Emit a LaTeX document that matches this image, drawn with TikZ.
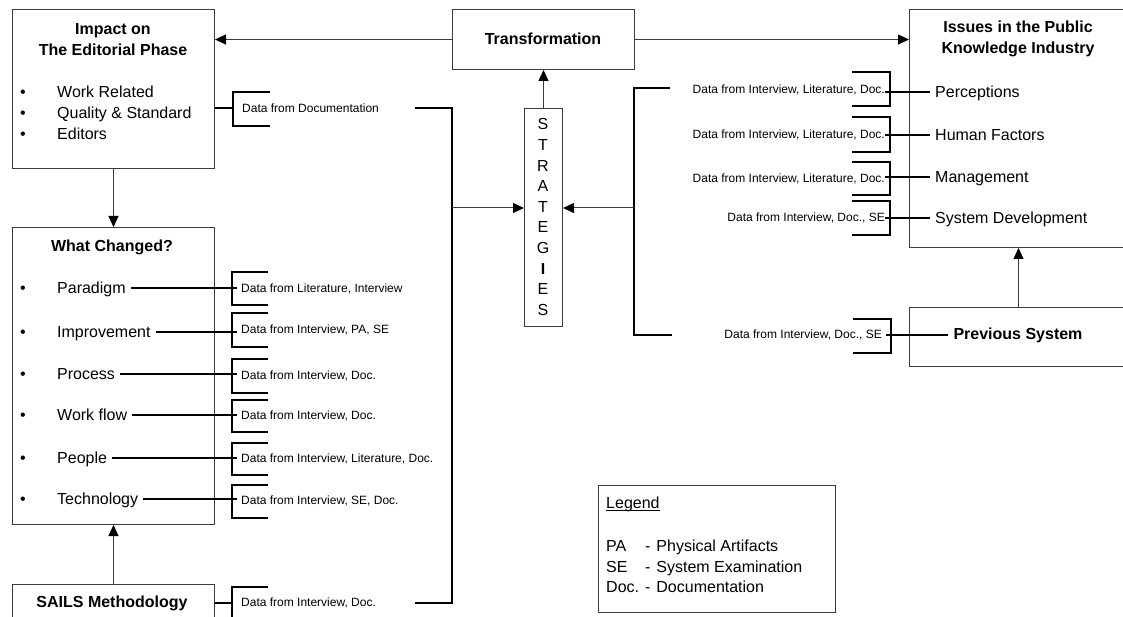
\documentclass[tikz,border=0pt]{standalone}
\usepackage{fontspec}
\setmainfont{Liberation Sans}
\usetikzlibrary{arrows.meta}
\definecolor{edge}{RGB}{60,60,60}
\begin{document}
\begin{tikzpicture}[x=1pt,y=-1pt,
  box/.style={draw=edge,line width=1pt,inner sep=0pt,anchor=north west},
  head/.style={font=\fontsize{16}{21}\selectfont\bfseries,align=center,inner sep=0pt},
  item/.style={font=\fontsize{16}{19}\selectfont,anchor=base west,yshift=-5.7pt,inner sep=0pt},
  data/.style={font=\fontsize{12}{14}\selectfont,inner sep=0pt},
  dot/.style={font=\fontsize{16}{19}\selectfont,anchor=base,yshift=-5.7pt,inner sep=0pt},
  link/.style={line width=1.2pt},
  feed/.style={draw=edge,line width=1pt,-{Triangle[length=11pt,width=10pt,color=black]}},
]
\useasboundingbox (0,0) rectangle (1123,617);
\clip (0,0) rectangle (1123,617);

% ---------- boxes ----------
\node[box,minimum width=202pt,minimum height=159pt] (impact) at (12,9) {};
\node[box,minimum width=182pt,minimum height=60pt] (trans) at (452,9) {};
\node[box,minimum width=38pt,minimum height=218pt] (strat) at (524,108) {};
\node[box,minimum width=218pt,minimum height=238pt] (issues) at (909,9) {};
\node[box,minimum width=218pt,minimum height=59pt] (prev) at (909,307) {};
\node[box,minimum width=202pt,minimum height=297pt] (what) at (12,227) {};
\node[box,minimum width=202pt,minimum height=50pt] (sails) at (12,584) {};
\node[box,minimum width=237pt,minimum height=127pt] (legend) at (598,485) {};

% ---------- titles ----------
\node[head] (impactT) at (113,40) {Impact on\\The Editorial Phase};
\node[head] (transT) at (543,39) {Transformation};
\node[head] (issuesT) at (1018,39) {Issues in the Public\\Knowledge Industry};
\node[head] (prevT) at (1018,335) {Previous System};
\node[head] (whatT) at (112,247) {What Changed?};
\node[head] (sailsT) at (112,603) {SAILS Methodology};
\node[align=center,inner sep=0pt,font=\fontsize{16}{20.6}\selectfont] (stratT) at (543,217)
  {S\\T\\R\\A\\T\\E\\G\\\textbf{I}\\E\\S};

% ---------- main arrows ----------
\draw[feed] (trans.west) -- (trans.west -| impact.east);
\draw[feed] (trans.east) -- (trans.east -| issues.west);
\draw[feed] (strat.north) -- (trans.south);
\draw[feed] (impact.south) -- (what.north);
\draw[feed] (sails.north) -- (what.south);
\draw[feed] (prev.north) -- (issues.south);

% ---------- editorial phase ----------
\node[dot] (ib1) at (23,92) {•};
\node[dot] (ib2) at (23,113) {•};
\node[dot] (ib3) at (23,134) {•};
\node[item] (i1) at (57,92) {Work Related};
\node[item] (i2) at (57,113) {Quality \& Standard};
\node[item] (i3) at (57,134) {Editors};
\coordinate (c0) at (233,108);
\draw[link] (c0 -| impact.east) -- (c0);
\draw[link] (270,92) -- (233,92) -- (233,126) -- (270,126);
\node[data,anchor=west] (d0) at (242,108) {Data from Documentation};

% ---------- what changed ----------
\node[dot] (wb1) at (23,288) {•};
\node[dot] (wb2) at (23,332) {•};
\node[dot] (wb3) at (23,374) {•};
\node[dot] (wb4) at (23,415) {•};
\node[dot] (wb5) at (23,458) {•};
\node[dot] (wb6) at (23,499) {•};
\node[item] (w1) at (57,288) {Paradigm};
\node[item] (w2) at (57,332) {Improvement};
\node[item] (w3) at (57,374) {Process};
\node[item] (w4) at (57,415) {Work flow};
\node[item] (w5) at (57,458) {People};
\node[item] (w6) at (57,499) {Technology};
\foreach \i/\t/\b in {1/272/305,2/313/347,3/359/393,4/400/432,5/443/475,6/485/518}{
  \draw[link] ([xshift=5pt,yshift=5.7pt]w\i.base east) -- ([xshift=5pt,yshift=5.7pt]w\i.base east -| 232,0);
  \draw[link] (268,\t) -- (232,\t) -- (232,\b) -- (268,\b);
}
\node[data,anchor=west] (d1) at (241,288.5) {Data from Literature, Interview};
\node[data,anchor=west] (d2) at (241,330) {Data from Interview, PA, SE};
\node[data,anchor=west] (d3) at (241,376) {Data from Interview, Doc.};
\node[data,anchor=west] (d4) at (241,416) {Data from Interview, Doc.};
\node[data,anchor=west] (d5) at (241,459) {Data from Interview, Literature, Doc.};
\node[data,anchor=west] (d6) at (241,501) {Data from Interview, SE, Doc.};

% ---------- SAILS ----------
\coordinate (c7) at (232,603);
\draw[link] (c7 -| sails.east) -- (c7);
\draw[link] (268,587) -- (232,587) -- (232,640);
\node[data,anchor=west] (d7) at (241,603) {Data from Interview, Doc.};

% ---------- left feed into strategies ----------
\coordinate (lt) at (452,108);
\coordinate (lb) at (452,603);
\coordinate (lm) at (452,208);
\coordinate (lta) at (415,108);
\coordinate (lba) at (415,603);
\draw[link] (lta) -- (lt) -- (lb) -- (lba);
\draw[feed] (lm) -- (lm -| strat.west);

% ---------- right feed into strategies ----------
\coordinate (rt) at (634,88);
\coordinate (rb) at (634,335);
\coordinate (rm) at (634,208);
\coordinate (rta) at (670,88);
\coordinate (rba) at (672,335);
\draw[link] (rta) -- (rt) -- (rb) -- (rba);
\draw[feed] (rm) -- (rm -| strat.east);

% ---------- issues ----------
\node[item] (s1) at (935,92) {Perceptions};
\node[item] (s2) at (935,135) {Human Factors};
\node[item] (s3) at (935,177) {Management};
\node[item] (s4) at (935,218) {System Development};
\foreach \i/\t/\b in {1/72/106,2/117/152,3/162/195,4/201/235}{
  \draw[link] ([xshift=-5pt,yshift=5.7pt]s\i.base west) -- ([xshift=-5pt,yshift=5.7pt]s\i.base west -| 890,0);
  \draw[link] (852,\t) -- (890,\t) -- (890,\b) -- (852,\b);
}
\node[data,anchor=east] (e1) at (885,90) {Data from Interview, Literature, Doc.};
\node[data,anchor=east] (e2) at (885,134.5) {Data from Interview, Literature, Doc.};
\node[data,anchor=east] (e3) at (885,178.5) {Data from Interview, Literature, Doc.};
\node[data,anchor=east] (e4) at (885,218) {Data from Interview, Doc., SE};

% ---------- previous system ----------
\draw[link] ([xshift=-5pt]prevT.west) -- ([xshift=-5pt]prevT.west -| 891,0);
\draw[link] (853,319) -- (891,319) -- (891,353) -- (853,353);
\node[data,anchor=east] (e5) at (882,335) {Data from Interview, Doc., SE};

% ---------- legend ----------
\node[item] (lg) at (606,503) {Legend};
\draw[line width=0.8pt] ([yshift=-2pt]lg.base west) -- ([yshift=-2pt]lg.base east);
\node[inner sep=0pt,anchor=north west,font=\fontsize{16}{20.5}\selectfont] (lgT) at (606,537.4)
  {\begin{tabular}{@{}l@{\hspace{6pt}-\hspace{6pt}}l@{}}
   PA & Physical Artifacts\\
   SE & System Examination\\
   Doc. & Documentation
   \end{tabular}};
\end{tikzpicture}
\end{document}
